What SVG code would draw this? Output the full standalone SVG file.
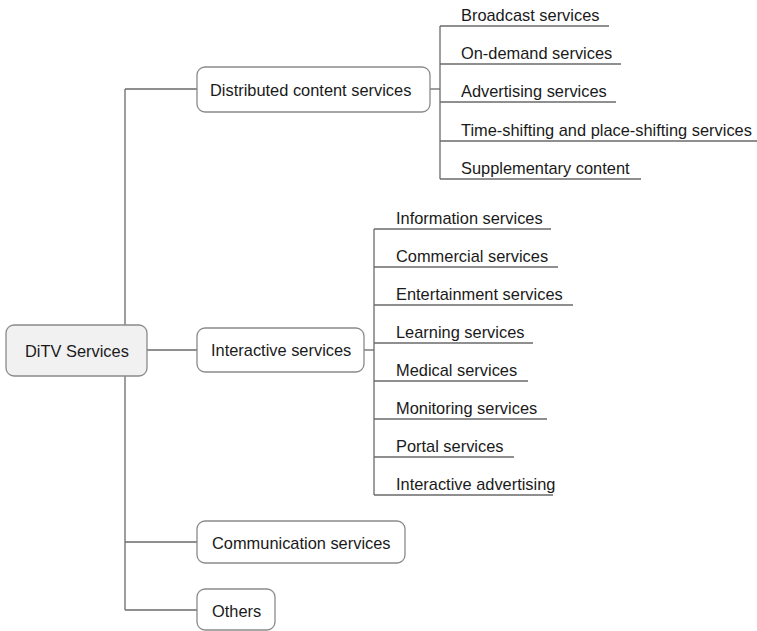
<svg xmlns="http://www.w3.org/2000/svg" width="757" height="631" viewBox="0 0 757 631">
  <style>
    .box { fill: #ffffff; stroke: #8a8a8a; stroke-width: 1.3; }
    .root { fill: #f1f1f1; stroke: #8a8a8a; stroke-width: 1.3; }
    .ln { fill: none; stroke: #6a6a6a; stroke-width: 1.3; }
    text { font-family: "Liberation Sans", Arial, sans-serif; font-size: 16.4px; fill: #1a1a1a; }
  </style>
  <rect width="757" height="631" fill="#ffffff"/>

  <!-- connectors -->
  <g id="connectors">
    <!-- main trunk -->
    <path class="ln" d="M125 89V610"/>
    <path class="ln" d="M125 89H197"/>
    <path class="ln" d="M147 350H197"/>
    <path class="ln" d="M125 542H197"/>
    <path class="ln" d="M125 610H197"/>
    <!-- distributed content branch -->
    <path class="ln" d="M430 89H440"/>
    <path class="ln" d="M440 26V179"/>
    <path class="ln" d="M440 26H609"/>
    <path class="ln" d="M440 64H621"/>
    <path class="ln" d="M440 102H616"/>
    <path class="ln" d="M440 141H757"/>
    <path class="ln" d="M440 179H641"/>
    <!-- interactive branch -->
    <path class="ln" d="M364 350H374"/>
    <path class="ln" d="M374 229V495"/>
    <path class="ln" d="M374 229H551"/>
    <path class="ln" d="M374 267H558"/>
    <path class="ln" d="M374 305H573"/>
    <path class="ln" d="M374 343H533"/>
    <path class="ln" d="M374 381H528"/>
    <path class="ln" d="M374 419H547"/>
    <path class="ln" d="M374 457H514"/>
    <path class="ln" d="M374 495H553"/>
  </g>

  <g id="ditv">
    <rect class="root" x="6" y="325" width="141" height="51" rx="8"/>
    <text x="25" y="357">DiTV Services</text>
  </g>
  <g id="distributed">
    <rect class="box" x="197" y="67" width="233" height="45" rx="8"/>
    <text x="210" y="96">Distributed content services</text>
  </g>
  <g id="interactive">
    <rect class="box" x="197" y="328" width="167" height="44" rx="8"/>
    <text x="211" y="356">Interactive services</text>
  </g>
  <g id="communication">
    <rect class="box" x="197" y="521" width="208" height="42" rx="8"/>
    <text x="212" y="549">Communication services</text>
  </g>
  <g id="others">
    <rect class="box" x="197" y="589" width="78" height="41" rx="8"/>
    <text x="212" y="617">Others</text>
  </g>

  <g id="distributed-items">
    <text x="461" y="21">Broadcast services</text>
    <text x="461" y="59">On-demand services</text>
    <text x="461" y="97">Advertising services</text>
    <text x="461" y="136">Time-shifting and place-shifting services</text>
    <text x="461" y="174">Supplementary content</text>
  </g>
  <g id="interactive-items">
    <text x="396" y="224">Information services</text>
    <text x="396" y="262">Commercial services</text>
    <text x="396" y="300">Entertainment services</text>
    <text x="396" y="338">Learning services</text>
    <text x="396" y="376">Medical services</text>
    <text x="396" y="414">Monitoring services</text>
    <text x="396" y="452">Portal services</text>
    <text x="396" y="490">Interactive advertising</text>
  </g>
</svg>
